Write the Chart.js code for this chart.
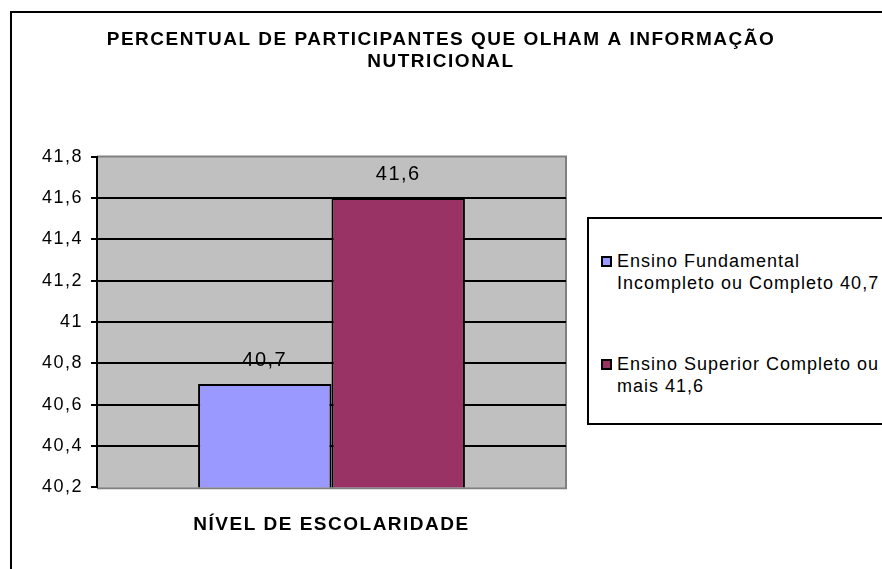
<!DOCTYPE html>
<html>
<head>
<meta charset="utf-8">
<script src="https://cdn.jsdelivr.net/npm/chart.js@4/dist/chart.umd.min.js"></script>
<style>
    html, body { margin: 0; padding: 0; background: #fff; overflow: hidden; }
    #wrap { position: relative; width: 882px; height: 569px; overflow: hidden; }
    #frame { position: absolute; left: 10px; top: 11px; width: 1000px; height: 1000px;
             border: 2px solid #000; box-sizing: border-box; pointer-events: none; }
    #legend { position: absolute; left: 587px; top: 217px; width: 400px; height: 208px;
              border: 2px solid #000; box-sizing: border-box; background: #fff;
              font-family: "Liberation Sans", Arial, sans-serif; font-size: 18px;
              letter-spacing: 1px; line-height: 21.5px; color: #000; }
    .item { position: absolute; left: 0; }
    .swatch { position: absolute; left: 12px; top: 5px; width: 11px; height: 11px;
              border: 2px solid #000; box-sizing: border-box; }
    .text { position: absolute; left: 28px; white-space: nowrap; }
</style>
</head>
<body>
<div id="wrap">
    <canvas id="chart" width="882" height="569"></canvas>
    <div id="frame"></div>
    <div id="legend"></div>
</div>
<script>
// chart data
const categories = [''];
const seriesLabels = [
    ['Ensino Fundamental', 'Incompleto ou Completo 40,7'],
    ['Ensino Superior Completo ou', 'mais 41,6']
];
const seriesValues = [40.7, 41.6];
const seriesColors = ['#9999FF', '#993366'];
const yMin = 40.2;
const yMax = 41.8;
const yStep = 0.2;
const chartTitle = ['PERCENTUAL DE PARTICIPANTES QUE OLHAM A INFORMAÇÃO', 'NUTRICIONAL'];
const xTitle = 'NÍVEL DE ESCOLARIDADE';

function fmt(v) {
    return (Math.round(v * 10) / 10).toString().replace('.', ',');
}

Chart.defaults.font.family = '"Liberation Sans", Arial, sans-serif';
Chart.defaults.color = '#000';

// Excel-like text spacing
const spacingPlugin = {
    id: 'spacing',
    beforeUpdate(chart) { chart.ctx.letterSpacing = '1.5px'; },
    beforeDraw(chart) { chart.ctx.letterSpacing = '1.5px'; }
};

// gray plot area with darker edge
const plotAreaPlugin = {
    id: 'plotArea',
    beforeDraw(chart) {
        const { ctx, chartArea: a } = chart;
        ctx.save();
        ctx.fillStyle = '#C0C0C0';
        ctx.fillRect(a.left, a.top, a.right - a.left, a.bottom - a.top);
        ctx.strokeStyle = '#808080';
        ctx.lineWidth = 2;
        ctx.beginPath();
        ctx.moveTo(a.left, a.top);
        ctx.lineTo(a.right, a.top);
        ctx.lineTo(a.right, a.bottom + 1);
        ctx.lineTo(a.left, a.bottom + 1);
        ctx.stroke();
        ctx.restore();
    }
};

// value labels above bars
const valueLabelPlugin = {
    id: 'valueLabels',
    afterDatasetsDraw(chart) {
        const ctx = chart.ctx;
        ctx.save();
        ctx.font = '20px "Liberation Sans", Arial, sans-serif';
        ctx.fillStyle = '#000';
        ctx.textAlign = 'center';
        ctx.textBaseline = 'middle';
        chart.data.datasets.forEach((ds, i) => {
            chart.getDatasetMeta(i).data.forEach((bar, j) => {
                ctx.fillText(fmt(ds.data[j]), bar.x, bar.y - 23);
            });
        });
        ctx.restore();
    }
};

new Chart(document.getElementById('chart'), {
    type: 'bar',
    data: {
        labels: categories,
        datasets: seriesValues.map((v, i) => ({
            label: seriesLabels[i].join(' '),
            data: [v],
            backgroundColor: seriesColors[i],
            borderColor: '#000',
            borderWidth: 2,
            borderSkipped: false
        }))
    },
    options: {
        responsive: false,
        animation: false,
        layout: { padding: 0 },
        datasets: {
            bar: { categoryPercentage: 0.569, barPercentage: 1 }
        },
        plugins: {
            legend: { display: false },
            tooltip: { enabled: false },
            title: {
                display: true,
                text: chartTitle,
                font: { size: 19, weight: 'bold' },
                padding: { top: 28, bottom: 83 }
            }
        },
        scales: {
            x: {
                grid: { display: false, drawTicks: false },
                border: { display: false },
                ticks: { display: false },
                title: {
                    display: true,
                    text: xTitle,
                    font: { size: 19, weight: 'bold' },
                    padding: { top: 26, bottom: 33 }
                }
            },
            y: {
                min: yMin,
                max: yMax,
                afterFit(scale) { scale.width = 97; },
                ticks: {
                    stepSize: yStep,
                    font: { size: 18 },
                    padding: 8,
                    callback: v => fmt(v)
                },
                grid: {
                    color: c => (c.tick && (Math.abs(c.tick.value - yMin) < 1e-6 || Math.abs(c.tick.value - yMax) < 1e-6)) ? 'rgba(0,0,0,0)' : '#000',
                    tickColor: '#000',
                    lineWidth: 2,
                    tickLength: 6
                },
                border: { color: '#000', width: 2 }
            },
            // empty right-hand axis that keeps room for the legend box
            side: {
                position: 'right',
                afterFit(scale) { scale.width = 316; },
                ticks: { display: false },
                grid: { display: false, drawTicks: false },
                border: { display: false }
            }
        }
    },
    plugins: [spacingPlugin, plotAreaPlugin, valueLabelPlugin]
});

// legend built from the same arrays
const legend = document.getElementById('legend');
const itemTops = [32, 135];
seriesLabels.forEach((lines, i) => {
    const item = document.createElement('div');
    item.className = 'item';
    item.style.top = itemTops[i] + 'px';
    const sw = document.createElement('div');
    sw.className = 'swatch';
    sw.style.background = seriesColors[i];
    const tx = document.createElement('div');
    tx.className = 'text';
    tx.innerHTML = lines.join('<br>');
    item.appendChild(sw);
    item.appendChild(tx);
    legend.appendChild(item);
});
</script>
</body>
</html>
